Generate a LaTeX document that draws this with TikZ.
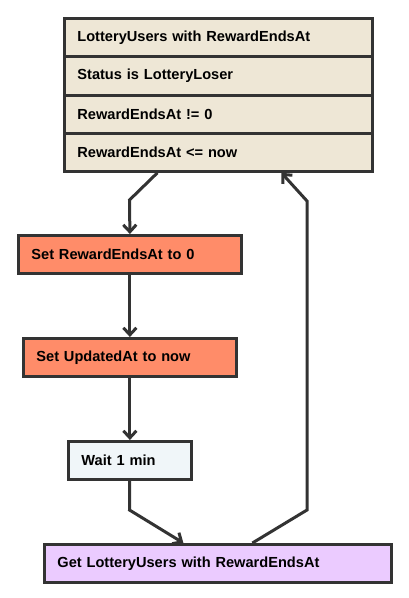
\documentclass[tikz,border=0pt]{standalone}
\usepackage{fontspec}
\setmainfont{Liberation Sans}
\usetikzlibrary{arrows.meta}

\definecolor{linecol}{HTML}{333333}
\definecolor{querycol}{HTML}{EEE7D6}
\definecolor{setcol}{HTML}{FF8C69}
\definecolor{waitcol}{HTML}{F0F6F9}
\definecolor{getcol}{HTML}{EBCBFF}

\begin{document}
\begin{tikzpicture}[x=1pt,y=-1pt,
    flowbox/.style={draw=linecol,line width=2.8pt,anchor=north west,inner xsep=13pt,
        align=left,font=\fontsize{14.6}{16}\selectfont\bfseries},
    arr/.style={draw=linecol,line width=3pt,-{Straight Barb[length=7pt,width=13pt]}}]
        % Frame
        \useasboundingbox (0,0) rectangle (408,598);

        % Query rows
        \node[flowbox,fill=querycol,text width=282pt,minimum height=38pt] (q1) at (63,17) {LotteryUsers with RewardEndsAt};
        \node[flowbox,fill=querycol,text width=282pt,minimum height=39pt] (q2) at (63,55) {Status is LotteryLoser};
        \node[flowbox,fill=querycol,text width=282pt,minimum height=38pt] (q3) at (63,94) {RewardEndsAt != 0};
        \node[flowbox,fill=querycol,text width=282pt,minimum height=38pt] (q4) at (63,132) {RewardEndsAt <= now};

        % Steps
        \node[flowbox,fill=setcol,text width=197pt,minimum height=38pt] (setreward) at (17,234) {Set RewardEndsAt to 0};
        \node[flowbox,fill=setcol,text width=187pt,minimum height=38pt] (setupdated) at (22,337) {Set UpdatedAt to now};
        \node[flowbox,fill=waitcol,text width=97pt,minimum height=38pt] (wait) at (67,440) {Wait 1 min};
        \node[flowbox,fill=getcol,text width=321pt,minimum height=38pt] (getusers) at (43,543) {Get LotteryUsers with RewardEndsAt};

        % Bends
        \coordinate (bendA) at (129.5,200);
        \coordinate (bendB) at (129.5,510);
        \coordinate (bendC) at (307,510);
        \coordinate (bendD) at (307,201);

        % Connectors
        \draw[arr] ([xshift=-61pt]q4.south) -- (bendA) -- (setreward.north);
        \draw[arr] (setreward) -- (setupdated);
        \draw[arr] (setupdated) -- (wait);
        \draw[arr] (wait) -- (bendB) -- ([xshift=-34.5pt]getusers.north);
        \draw[arr] ([xshift=34.5pt]getusers.north) -- (bendC) -- (bendD) -- ([xshift=63pt]q4.south);

      \end{tikzpicture}
\end{document}
